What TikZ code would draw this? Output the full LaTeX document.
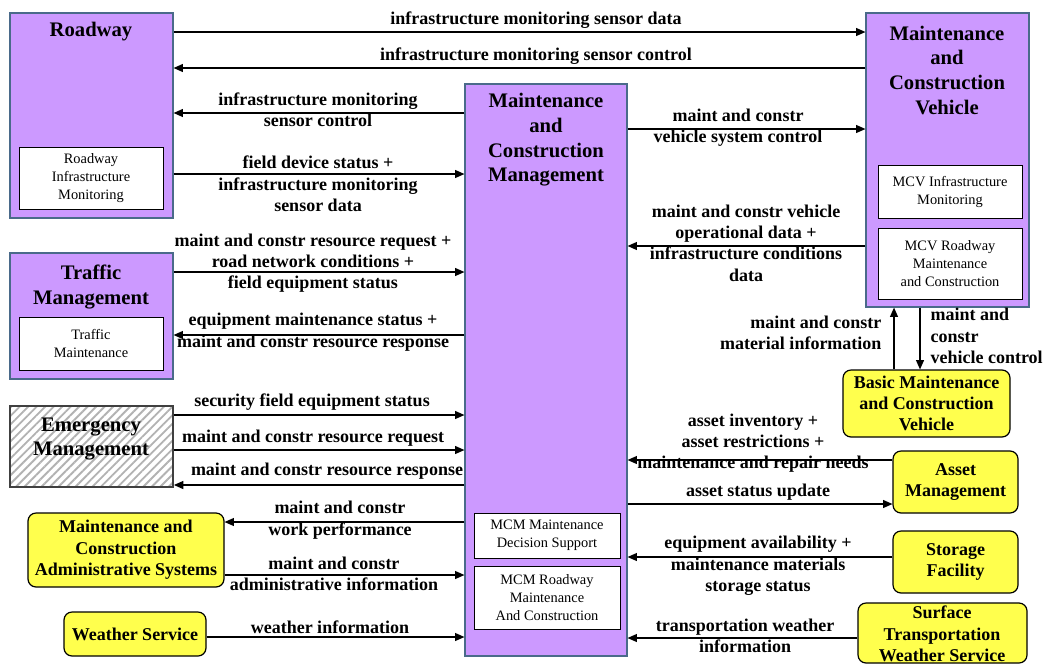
\documentclass[tikz,border=0pt]{standalone}
\usepackage{fontspec}
\setmainfont{Liberation Serif}
\usetikzlibrary{arrows.meta}
\usetikzlibrary{fit}
\usetikzlibrary{patterns.meta}
\definecolor{mcpurple}{HTML}{CC99FF}
\definecolor{mcborder}{HTML}{4A6A8A}
\definecolor{termyellow}{HTML}{FFFF4D}
\tikzset{
    subsystem/.style={
        draw=mcborder,
        fill=mcpurple,
        line width=0.9pt,
        inner sep=0,
    },
    terminator/.style={
        draw=black,
        fill=termyellow,
        line width=0.9pt,
        rounded corners=6pt,
        inner sep=0,
    },
    hatched terminator/.style={
        draw=black!75,
        line width=0.9pt,
        inner sep=0,
        pattern={Lines[angle=45,distance=4.5pt,line width=1.4pt]},
        pattern color=black!30,
    },
    package/.style={
        draw=black,
        fill=white,
        line width=0.7pt,
        inner sep=0,
    },
    box title/.style={
        font=\fontsize{15.5}{18.5}\selectfont\bfseries,
        align=center,
        inner sep=0,
    },
    terminator title/.style={
        font=\fontsize{13.5}{16}\selectfont\bfseries,
        align=center,
        inner sep=0,
    },
    package text/.style={
        font=\fontsize{10.8}{13.5}\selectfont,
        align=center,
        inner sep=0,
    },
    flow label/.style={
        font=\fontsize{13.5}{16}\selectfont\bfseries,
        align=center,
        inner sep=0,
    },
    flow/.style={
        line width=0.8pt,
        -{Triangle[length=7pt,width=6pt]},
    },
}

\begin{document}
\begin{tikzpicture}[x=0.75pt, y=-0.75pt]

    \path[use as bounding box, fill=white] (0,0) rectangle (1044,664);

    % subsystems
    \node[subsystem, fit={(10,13) (173,218)}] (rw) {};
    \node[box title] (rwtitle) at (91,32) {Roadway};
    \node[package, fit={(19,147) (163,209)}] (rwim) {};
    \node[package text] (rwimtext) at (rwim.center) {Roadway\\Infrastructure\\Monitoring};

    \node[subsystem, fit={(465,84) (627,656)}] (mcm) {};
    \node[box title] (mcmtitle) at (546,140) {Maintenance\\and\\Construction\\Management};
    \node[package, fit={(474,513) (620,558)}] (mcmds) {};
    \node[package text] (mcmdstext) at (mcmds.center) {MCM Maintenance\\Decision Support};
    \node[package, fit={(474,566) (620,629)}] (mcmrmc) {};
    \node[package text] (mcmrmctext) at (mcmrmc.center) {MCM Roadway\\Maintenance\\And Construction};

    \node[subsystem, fit={(866,13) (1029,307)}] (mcv) {};
    \node[box title] (mcvtitle) at (947,70) {Maintenance\\and\\Construction\\Vehicle};
    \node[package, fit={(878,165) (1022,218)}] (mcvim) {};
    \node[package text] (mcvimtext) at (mcvim.center) {MCV Infrastructure\\Monitoring};
    \node[package, fit={(878,228) (1022,299)}] (mcvrmc) {};
    \node[package text] (mcvrmctext) at (mcvrmc.center) {MCV Roadway\\Maintenance\\and Construction};

    \node[subsystem, fit={(10,253) (173,379)}] (tm) {};
    \node[box title] (tmtitle) at (91,287) {Traffic\\Management};
    \node[package, fit={(19,317) (163,370)}] (tmm) {};
    \node[package text] (tmmtext) at (tmm.center) {Traffic\\Maintenance};

    \node[hatched terminator, fit={(10,406) (173,487)}] (em) {};
    \node[box title] (emtitle) at (91,439) {Emergency\\Management};

    % terminators
    \node[terminator, fit={(843,370) (1010,437)}] (bmcv) {};
    \node[terminator title] (bmcvtitle) at (bmcv.center) {Basic Maintenance\\and Construction\\Vehicle};
    \node[terminator, fit={(893,451) (1018,513)}] (am) {};
    \node[terminator title] (amtitle) at (am.center) {Asset\\Management};
    \node[terminator, fit={(893,531) (1018,593)}] (sf) {};
    \node[terminator title] (sftitle) at (sf.center) {Storage\\Facility};
    \node[terminator, fit={(858,603) (1027,663)}] (stws) {};
    \node[terminator title] (stwstitle) at (942,634) {Surface\\Transportation\\Weather Service};
    \node[terminator, fit={(28,513) (224,587)}] (mcas) {};
    \node[terminator title] (mcastitle) at (mcas.center) {Maintenance and\\Construction\\Administrative Systems};
    \node[terminator, fit={(64,612) (206,656)}] (ws) {};
    \node[terminator title] (wstitle) at (ws.center) {Weather Service};

    % flows along the top
    \draw[flow] (rw.east |- 0,32) -- (mcv.west |- 0,32)
        node[flow label] (f1) at (536,20) {infrastructure monitoring sensor data};
    \draw[flow] (mcv.west |- 0,68) -- (rw.east |- 0,68)
        node[flow label] (f2) at (536,56) {infrastructure monitoring sensor control};

    % flows on the left
    \draw[flow] (mcm.west |- 0,113) -- (rw.east |- 0,113)
        node[flow label] (f3) at (318,110) {infrastructure monitoring\\sensor control};
    \draw[flow] (rw.east |- 0,174) -- (mcm.west |- 0,174)
        node[flow label] (f4) at (318,184) {field device status +\\infrastructure monitoring\\sensor data};
    \draw[flow] (tm.east |- 0,272) -- (mcm.west |- 0,272)
        node[flow label] (f5) at (313,263) {maint and constr resource request +\\road network conditions +\\field equipment status};
    \draw[flow] (mcm.west |- 0,335) -- (tm.east |- 0,335)
        node[flow label] (f6) at (313,332) {equipment maintenance status +\\maint and constr resource response};
    \draw[flow] (em.east |- 0,415) -- (mcm.west |- 0,415)
        node[flow label] (f7) at (312,402) {security field equipment status};
    \draw[flow] (em.east |- 0,450) -- (mcm.west |- 0,450)
        node[flow label] (f8) at (313,438) {maint and constr resource request};
    \draw[flow] (mcm.west |- 0,485) -- (em.east |- 0,485)
        node[flow label] (f9) at (327,471) {maint and constr resource response};
    \draw[flow] (mcm.west |- 0,522) -- (mcas.east |- 0,522)
        node[flow label] (f10) at (340,520) {maint and constr\\work performance};
    \draw[flow] (mcas.east |- 0,575) -- (mcm.west |- 0,575)
        node[flow label] (f11) at (334,574) {maint and constr\\administrative information};
    \draw[flow] (ws.east |- 0,637) -- (mcm.west |- 0,637)
        node[flow label] (f12) at (330,627) {weather information};

    % flows on the right
    \draw[flow] (mcm.east |- 0,129) -- (mcv.west |- 0,129)
        node[flow label] (f13) at (738,128) {maint and constr\\vehicle system control};
    \draw[flow] (mcv.west |- 0,246) -- (mcm.east |- 0,246)
        node[flow label] (f14) at (746,243) {maint and constr vehicle\\operational data +\\infrastructure conditions\\data};
    \draw[flow] (mcv.south -| 920,0) -- (bmcv.north -| 920,0)
        node[flow label, anchor=west, align=left] (f15) at (930,336) {maint and\\constr\\vehicle control};
    \draw[flow] (bmcv.north -| 894,0) -- (mcv.south -| 894,0)
        node[flow label, anchor=east, align=right] (f16) at (882,333) {maint and constr\\material information};
    \draw[flow] (am.west |- 0,460) -- (mcm.east |- 0,460)
        node[flow label] (f17) at (753,443) {asset inventory +\\asset restrictions +\\maintenance and repair needs};
    \draw[flow] (mcm.east |- 0,504) -- (am.west |- 0,504)
        node[flow label] (f18) at (758,492) {asset status update};
    \draw[flow] (sf.west |- 0,557) -- (mcm.east |- 0,557)
        node[flow label] (f19) at (758,566) {equipment availability +\\maintenance materials\\storage status};
    \draw[flow] (stws.west |- 0,638) -- (mcm.east |- 0,638)
        node[flow label] (f20) at (745,636) {transportation weather\\information};

\end{tikzpicture}
\end{document}
